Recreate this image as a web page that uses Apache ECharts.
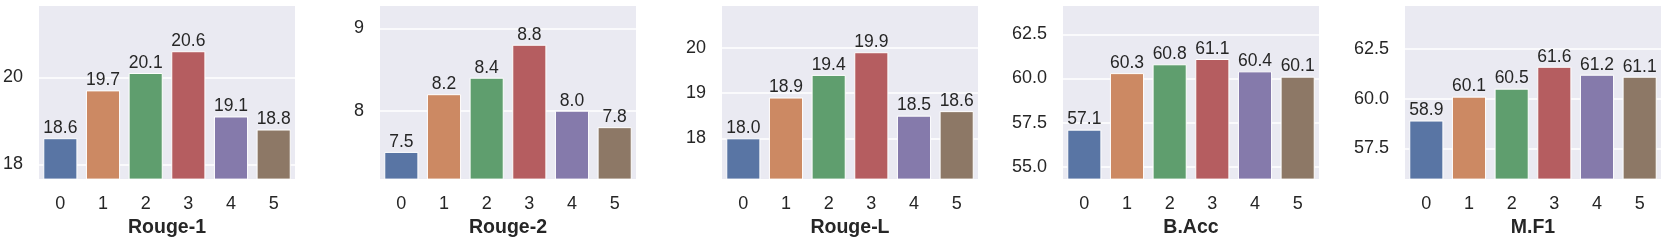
<!DOCTYPE html>
<html><head><meta charset="utf-8">
<script src="https://cdn.jsdelivr.net/npm/echarts@6/dist/echarts.min.js"></script>
<style>html,body{margin:0;padding:0;background:#fff}#c{width:1661px;height:243px}</style>
</head><body><div id="c"></div>
<script>
const categories = ['0','1','2','3','4','5'];
const titles = ['Rouge-1','Rouge-2','Rouge-L','B.Acc','M.F1'];
const rouge1 = [18.6, 19.7, 20.1, 20.6, 19.1, 18.8];
const rouge2 = [7.5, 8.2, 8.4, 8.8, 8.0, 7.8];
const rougeL = [18.0, 18.9, 19.4, 19.9, 18.5, 18.6];
const bacc = [57.1, 60.3, 60.8, 61.1, 60.4, 60.1];
const mf1 = [58.9, 60.1, 60.5, 61.6, 61.2, 61.1];
const yMins = [17.66, 7.17, 17.1, 54.3, 55.96];
const yMaxs = [21.64, 9.27, 20.92, 64.1, 64.65];
const yTicks = [[18, 20], [8, 9], [18, 19, 20], [55.0, 57.5, 60.0, 62.5], [57.5, 60.0, 62.5]];
const yTickDecimals = [0, 0, 0, 1, 1];
const colors = ['#5975a4', '#cc8963', '#5f9e6e', '#b55d60', '#857aab', '#8d7866'];

const allSeries = [rouge1, rouge2, rougeL, bacc, mf1];
const lefts = [39, 380, 722, 1063, 1405];
const plotW = 256, plotTop = 6, plotH = 177;
const font = 'Liberation Sans, Arial, Helvetica, sans-serif';
const txt = '#262626';

const grid = [], xAxis = [], yAxis = [], series = [];
allSeries.forEach((vals, i) => {
  grid.push({left: lefts[i], top: plotTop, width: plotW, height: plotH, show: true,
    backgroundColor: '#EAEAF2', borderWidth: 0, containLabel: false});
  xAxis.push({type: 'category', gridIndex: i, data: categories,
    axisLine: {show: false}, axisTick: {show: false}, splitLine: {show: false},
    axisLabel: {color: txt, fontSize: 18, fontFamily: font, margin: 16},
    name: titles[i], nameLocation: 'middle', nameGap: 37,
    nameTextStyle: {color: txt, fontSize: 19.5, fontWeight: 'bold', fontFamily: font}});
  yAxis.push({type: 'value', gridIndex: i, min: yMins[i], max: yMaxs[i],
    axisLine: {show: false},
    axisTick: {show: false, customValues: yTicks[i]},
    axisLabel: {color: txt, fontSize: 18, fontFamily: font, margin: 16,
      customValues: yTicks[i],
      formatter: v => Number(v).toFixed(yTickDecimals[i])},
    splitLine: {show: true, lineStyle: {color: '#ffffff', width: 1.5}}});
  series.push({type: 'bar', xAxisIndex: i, yAxisIndex: i, barCategoryGap: '20%',
    data: vals.map((v, j) => ({value: v, itemStyle: {color: colors[j]}})),
    itemStyle: {borderColor: '#ffffff', borderWidth: 1},
    label: {show: true, position: 'top', distance: 1, color: txt, fontSize: 17.5,
      fontFamily: font, formatter: p => p.value.toFixed(1)},
    silent: true, animation: false});
});

const chart = echarts.init(document.getElementById('c'), null, {renderer: 'canvas'});
chart.setOption({animation: false, grid, xAxis, yAxis, series});
</script>
</body></html>
